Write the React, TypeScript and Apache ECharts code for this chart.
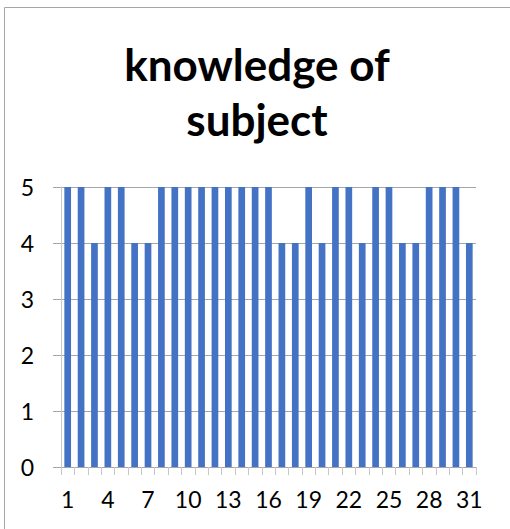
import React, { useEffect, useRef } from "react";
import * as echarts from "echarts";

const titleText = "knowledge of\nsubject";
const categories = [
  "1", "2", "3", "4", "5", "6", "7", "8", "9", "10",
  "11", "12", "13", "14", "15", "16", "17", "18", "19", "20",
  "21", "22", "23", "24", "25", "26", "27", "28", "29", "30", "31",
];
const values = [
  5, 5, 4, 5, 5, 4, 4, 5, 5, 5,
  5, 5, 5, 5, 5, 5, 4, 4, 5, 4,
  5, 5, 4, 5, 5, 4, 4, 5, 5, 5, 4,
];
const yMin = 0;
const yMax = 5;
const yInterval = 1;

export default function App() {
  const ref = useRef<HTMLDivElement>(null);
  useEffect(() => {
    if (!ref.current) return;
    const chart = echarts.init(ref.current, null, { renderer: "svg" });
    const font = "Lato, 'Open Sans', sans-serif";
    chart.setOption({
      animation: false,
      backgroundColor: "#ffffff",
      graphic: [
        {
          type: "rect",
          shape: { x: 4.5, y: 7.5, width: 600, height: 600 },
          style: { fill: "none", stroke: "#a6a6a6", lineWidth: 1 },
          silent: true,
        },
        {
          type: "text",
          x: 257,
          y: 36,
          style: {
            text: titleText,
            font: `bold 44px ${font}`,
            fill: "#000000",
            textAlign: "center",
            textVerticalAlign: "top",
            lineHeight: 55,
          },
        },
      ],
      grid: { left: 61, right: 34, top: 187, bottom: 62, containLabel: false },
      xAxis: {
        type: "category",
        data: categories,
        boundaryGap: true,
        axisLine: { show: true, lineStyle: { color: "#a6a6a6", width: 1 } },
        axisTick: {
          show: true,
          interval: 0,
          length: 8,
          alignWithLabel: false,
          lineStyle: { color: "#c8c8c8" },
        },
        axisLabel: {
          interval: 2,
          fontSize: 23,
          fontFamily: font,
          color: "#000000",
          margin: 20,
        },
        splitLine: { show: false },
      },
      yAxis: {
        type: "value",
        min: yMin,
        max: yMax,
        interval: yInterval,
        axisLine: { show: true, lineStyle: { color: "#c8c8c8", width: 1 } },
        axisTick: { show: true, length: 8, lineStyle: { color: "#a6a6a6" } },
        axisLabel: {
          fontSize: 23,
          fontFamily: font,
          color: "#000000",
          margin: 27,
        },
        splitLine: { show: true, lineStyle: { color: "#a6a6a6", width: 1 } },
      },
      series: [
        {
          type: "bar",
          data: values,
          barCategoryGap: "50%",
          itemStyle: { color: "#4472C4" },
        },
      ],
    });
    return () => chart.dispose();
  }, []);
  return (
    <div
      ref={ref}
      style={{ position: "absolute", left: 0, top: 0, width: 510, height: 529 }}
    />
  );
}
